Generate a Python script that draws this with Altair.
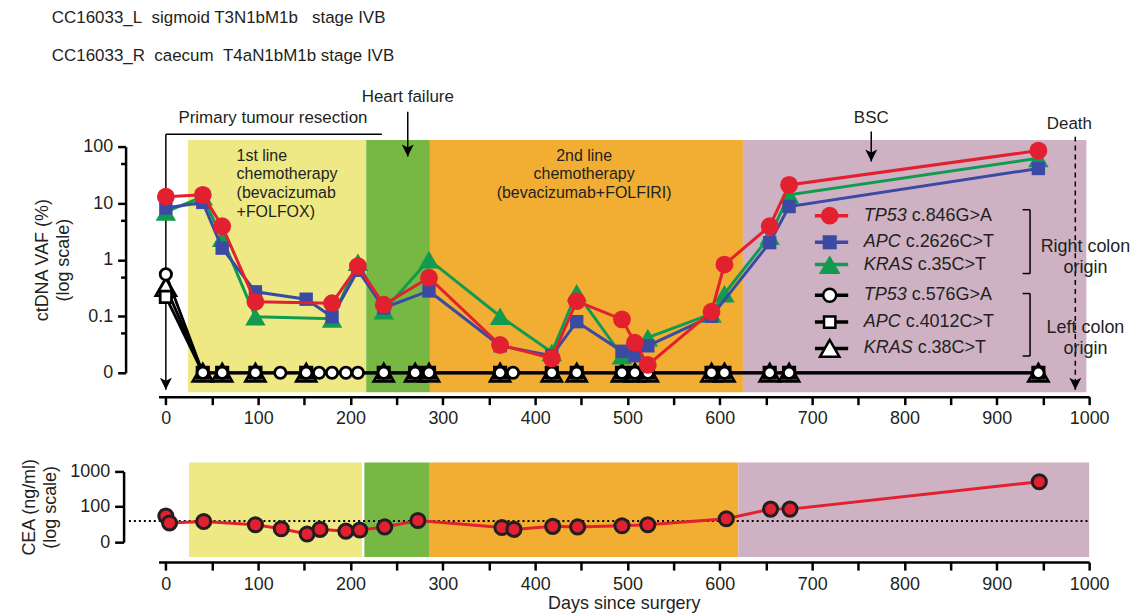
import altair as alt
import pandas as pd

FONT = "Liberation Sans"
INK = "#231F20"

# ---------------- data ----------------
# ctDNA, right-colon origin mutations (VAF %, None = no point)
ct_days = [0, 40, 61, 97, 152, 180, 208, 236, 285, 362, 418, 445, 494, 508, 522, 591, 605, 654, 675, 945]
tp53_846 = [13, 14, 3.9, 0.18, None, 0.17, 0.77, 0.16, 0.48, 0.031, 0.018, 0.185, 0.088, 0.034, 0.0138, 0.12, 0.82, 3.9, 21, 85]
apc_2626 = [8.2, 10.3, 1.6, 0.27, 0.2, 0.098, 0.65, 0.14, 0.28, 0.03, 0.02, 0.08, 0.024, 0.02, 0.03, 0.1, None, 2.0, 8.7, 41]
kras_35 = [7.0, 13, 2.4, 0.098, None, 0.09, 0.9, 0.125, 1.0, 0.1, 0.023, 0.26, 0.02, None, 0.042, 0.11, 0.25, 2.6, 14, 62]

# ctDNA, left-colon origin mutations (0 = not detected)
tp53_576_days = [0, 40, 61, 97, 124, 152, 166, 180, 195, 208, 236, 270, 285, 362, 376, 418, 445, 494, 508, 522, 591, 605, 654, 675, 945]
tp53_576 = [0.55, 0, 0, 0, 0, 0, 0, 0, 0, 0, 0, 0, 0, 0, 0, 0, 0, 0, 0, 0, 0, 0, 0, 0, 0]
lc_days = [0, 40, 61, 97, 152, 236, 270, 285, 362, 418, 445, 494, 508, 522, 591, 605, 654, 675, 945]
apc_4012 = [0.22, 0, 0, 0, 0, 0, 0, 0, 0, 0, 0, 0, 0, 0, 0, 0, 0, 0, 0]
kras_38 = [0.33, 0, 0, 0, 0, 0, 0, 0, 0, 0, 0, 0, 0, 0, 0, 0, 0, 0, 0]

# CEA (ng/ml)
cea_days = [0, 4, 41, 97, 125, 153, 167, 195, 210, 237, 273, 364, 377, 419, 446, 494, 522, 607, 655, 676, 946]
cea_vals = [55, 35, 38.5, 31, 24, 17, 23, 20.5, 22, 27, 41, 26, 23, 28, 27, 29, 31, 46, 86, 86, 510]
cea_normal = 40

# treatment phases
phase_colors = ["#EEE985", "#76B843", "#F1AE33", "#CFB1C4"]
top_phase_start = [24, 217, 286, 625]
top_phase_end = [217, 286, 625, 997]
cea_phase_start = [25, 215, 285, 620]
cea_phase_end = [212.5, 285, 620, 1000]

# events (day)
resection_day = 0
resection_bar_end = 234
heart_failure_day = 262
bsc_day = 764
death_day = 985

# ---------------- styling / layout ----------------
W = 934
H_TOP = 227
H_CEA = 71
RED, BLUE, GREEN = "#E2202F", "#3B4AA3", "#119A50"

X_SCALE = alt.Scale(domain=[-8, 1000], nice=False, zero=False)
YT_SCALE = alt.Scale(type="log", domain=[0.01, 100], nice=False)
YC_SCALE = alt.Scale(type="log", domain=[10, 1000], nice=False)

def x_axis(title, offset, tpad):
    return alt.Axis(values=list(range(0, 1001, 50)), format="d",
                    labelExpr="datum.value % 100 == 0 ? datum.label : ''",
                    title=title, offset=offset, grid=False, labelFlush=False,
                    domainColor="black", domainWidth=2.5, tickColor="black",
                    tickWidth=2.5, tickSize=8, labelPadding=5,
                    labelFont=FONT, labelFontSize=18, labelColor=INK,
                    titleFont=FONT, titleFontSize=18, titleFontWeight="normal",
                    titleColor=INK, titlePadding=tpad)

YT_AXIS = alt.Axis(values=[0.01, 0.05, 0.1, 0.5, 1, 5, 10, 50, 100],
                   labelExpr="datum.value == 100 ? '100' : datum.value == 10 ? '10' : datum.value == 1 ? '1' : datum.value == 0.1 ? '0.1' : datum.value == 0.01 ? '0' : ''",
                   title=["ctDNA VAF (%)", "(log scale)"], offset=33, grid=False, labelFlush=False,
                   domainColor="black", domainWidth=2.5, tickColor="black", tickWidth=2.5,
                   tickSize={"condition": {"test": "indexof([0.05, 0.5, 5, 50], datum.value) >= 0", "value": 5}, "value": 8},
                   labelPadding=5, labelFont=FONT, labelFontSize=18, labelColor=INK,
                   titleFont=FONT, titleFontSize=18, titleFontWeight="normal",
                   titleColor=INK, titlePadding=10, titleLineHeight=21)

YC_AXIS = alt.Axis(values=[10, 100, 1000], format="d",
                   labelExpr="datum.value == 10 ? '0' : datum.label",
                   title=["CEA (ng/ml)", "(log scale)"], offset=35, grid=False, labelFlush=False,
                   domainColor="black", domainWidth=2.5, tickColor="black", tickWidth=2.5,
                   tickSize=9, labelPadding=5, labelFont=FONT, labelFontSize=18, labelColor=INK,
                   titleFont=FONT, titleFontSize=18, titleFontWeight="normal",
                   titleColor=INK, titlePadding=10, titleLineHeight=21)

XT = lambda f: alt.X(f, type="quantitative", scale=X_SCALE, axis=x_axis(None, 24, 6))
XC = lambda f: alt.X(f, type="quantitative", scale=X_SCALE, axis=x_axis("Days since surgery", 20, 2))
YT = lambda f: alt.Y(f, type="quantitative", scale=YT_SCALE, axis=YT_AXIS)
YC = lambda f: alt.Y(f, type="quantitative", scale=YC_SCALE, axis=YC_AXIS)

# ---------------- top panel ----------------
top_layers = []

ph = pd.DataFrame({"start": top_phase_start, "end": top_phase_end, "color": phase_colors,
                   "lo": 0.00453, "hi": 131})
top_layers.append(alt.Chart(ph).mark_rect().encode(
    x=XT("start"), x2="end", y=YT("lo"), y2="hi",
    color=alt.Color("color:N", scale=None)))

# phase labels
phase_txt = pd.DataFrame({"day": [76.6], "y": [100], "t": ["1st line\nchemotherapy\n(bevacizumab\n+FOLFOX)"]})
top_layers.append(alt.Chart(phase_txt).mark_text(align="left", baseline="top", dy=1, lineBreak="\n",
                  lineHeight=19, font=FONT, fontSize=16, color=INK).encode(x=XT("day"), y=YT("y"), text="t"))
phase_txt2 = pd.DataFrame({"day": [453], "y": [100], "t": ["2nd line\nchemotherapy\n(bevacizumab+FOLFIRI)"]})
top_layers.append(alt.Chart(phase_txt2).mark_text(align="center", baseline="top", dy=1, lineBreak="\n",
                  lineHeight=19, font=FONT, fontSize=16, color=INK).encode(x=XT("day"), y=YT("y"), text="t"))

# event annotations
ARROW = "M-1,-2L0,0L1,-2L0,-1.5Z"
vlines = pd.DataFrame({"day": [resection_day, heart_failure_day, bsc_day],
                       "y1": [165.5, 414, 184], "y2": [0.0050, 67, 54.4]})
top_layers.append(alt.Chart(vlines).mark_rule(color="black", strokeWidth=1.5).encode(
    x=XT("day"), y=YT("y1"), y2="y2"))
top_layers.append(alt.Chart(vlines).mark_point(shape=ARROW, size=144, filled=True, color="black", opacity=1).encode(
    x=XT("day"), y=YT("y2")))
hline = pd.DataFrame({"d1": [resection_day], "d2": [resection_bar_end], "y": [165.5]})
top_layers.append(alt.Chart(hline).mark_rule(color="black", strokeWidth=1.5).encode(
    x=XT("d1"), x2="d2", y=YT("y")))
death = pd.DataFrame({"day": [death_day], "y1": [150], "y2": [0.0050]})
top_layers.append(alt.Chart(death).mark_rule(color="black", strokeWidth=1.5, strokeDash=[5, 4]).encode(
    x=XT("day"), y=YT("y1"), y2="y2"))
top_layers.append(alt.Chart(death).mark_point(shape=ARROW, size=144, filled=True, color="black", opacity=1).encode(
    x=XT("day"), y=YT("y2")))
ann = pd.DataFrame({"day": [116, heart_failure_day, bsc_day, 978.6],
                    "y": [317, 762, 317, 251],
                    "t": ["Primary tumour resection", "Heart failure", "BSC", "Death"]})
top_layers.append(alt.Chart(ann).mark_text(align="center", baseline="middle", font=FONT, fontSize=17, color=INK).encode(
    x=XT("day"), y=YT("y"), text="t"))


def series(days, vals, color, shape, size, fill, stroke, sw, lw):
    df = pd.DataFrame({"day": days, "vaf": vals}).dropna()
    base = alt.Chart(df).transform_calculate(yv="max(datum.vaf, 0.01)")
    line = base.mark_line(color=color, strokeWidth=lw).encode(x=XT("day"), y=YT("yv"))
    pts = base.mark_point(shape=shape, size=size, filled=True, fill=fill, stroke=stroke,
                          strokeWidth=sw, opacity=1).encode(x=XT("day"), y=YT("yv"))
    return [line, pts]

top_layers += series(lc_days, kras_38, "black", "triangle-up", 400, "white", "black", 2.8, 2.8)
top_layers += series(lc_days, apc_4012, "black", "square", 130, "white", "black", 2.8, 2.8)
top_layers += series(tp53_576_days, tp53_576, "black", "circle", 130, "white", "black", 2.8, 2.8)
top_layers += series(ct_days, kras_35, GREEN, "triangle-up", 420, GREEN, GREEN, 0, 3)
top_layers += series(ct_days, apc_2626, BLUE, "square", 180, BLUE, BLUE, 0, 3)
top_layers += series(ct_days, tp53_846, RED, "circle", 320, RED, RED, 0, 3)

# legend (custom)
leg_rows = [
    ("TP53", "c.846G>A", RED, "circle", 320, RED, RED, 0, 6.0, 48),
    ("APC", "c.2626C>T", BLUE, "square", 200, BLUE, BLUE, 0, 2.03, 42),
    ("KRAS", "c.35C>T", GREEN, "triangle-up", 470, GREEN, GREEN, 0, 0.82, 54),
    ("TP53", "c.576G>A", "black", "circle", 170, "white", "black", 2.5, 0.235, 48),
    ("APC", "c.4012C>T", "black", "square", 130, "white", "black", 2.5, 0.0787, 42),
    ("KRAS", "c.38C>T", "black", "triangle-up", 380, "white", "black", 2.5, 0.027, 54),
]
for gene, mut, col, shp, sz, fll, stk, sw, yv, dx in leg_rows:
    d = pd.DataFrame({"x1": [703], "x2": [739], "xm": [719], "xt": [756], "y": [yv], "g": [gene], "m": [mut]})
    top_layers.append(alt.Chart(d).mark_rule(color=col, strokeWidth=3.5).encode(x=XT("x1"), x2="x2", y=YT("y")))
    top_layers.append(alt.Chart(d).mark_point(shape=shp, size=sz, filled=True, fill=fll, stroke=stk,
                                              strokeWidth=sw, opacity=1).encode(x=XT("xm"), y=YT("y")))
    top_layers.append(alt.Chart(d).mark_text(align="left", baseline="middle", font=FONT, fontSize=18,
                                             fontStyle="italic", color=INK).encode(x=XT("xt"), y=YT("y"), text="g"))
    top_layers.append(alt.Chart(d).mark_text(align="left", baseline="middle", font=FONT, fontSize=18,
                                             dx=dx, color=INK).encode(x=XT("xt"), y=YT("y"), text="m"))

brackets = pd.DataFrame({"x": [936, 936], "xa": [928, 928], "top": [7.65, 0.252], "bot": [0.569, 0.0198]})
top_layers.append(alt.Chart(brackets).mark_rule(color="black", strokeWidth=1.5).encode(x=XT("x"), y=YT("top"), y2="bot"))
top_layers.append(alt.Chart(brackets).mark_rule(color="black", strokeWidth=1.5).encode(x=XT("xa"), x2="x", y=YT("top")))
top_layers.append(alt.Chart(brackets).mark_rule(color="black", strokeWidth=1.5).encode(x=XT("xa"), x2="x", y=YT("bot")))
grp = pd.DataFrame({"x": [996, 996], "y": [1.67, 0.0622], "t": ["Right colon\norigin", "Left colon\norigin"]})
top_layers.append(alt.Chart(grp).mark_text(align="center", baseline="middle", lineBreak="\n", lineHeight=21.5,
                                           font=FONT, fontSize=18, color=INK).encode(x=XT("x"), y=YT("y"), text="t"))

top = alt.layer(*top_layers).properties(width=W, height=H_TOP)

# ---------------- CEA panel ----------------
cph = pd.DataFrame({"start": cea_phase_start, "end": cea_phase_end, "color": phase_colors,
                    "lo": 3.78, "hi": 1780})
cea = pd.DataFrame({"day": cea_days, "cea": cea_vals})
norm = pd.DataFrame({"d1": [-40], "d2": [1000], "y": [cea_normal]})
bottom = alt.layer(
    alt.Chart(cph).mark_rect().encode(x=XC("start"), x2="end", y=YC("lo"), y2="hi",
                                      color=alt.Color("color:N", scale=None)),
    alt.Chart(norm).mark_rule(color="black", strokeWidth=2, strokeDash=[2, 3]).encode(x=XC("d1"), x2="d2", y=YC("y")),
    alt.Chart(cea).mark_line(color=RED, strokeWidth=3).encode(x=XC("day"), y=YC("cea")),
    alt.Chart(cea).mark_point(shape="circle", size=200, filled=True, fill=RED, stroke="#231F20",
                              strokeWidth=3, opacity=1).encode(x=XC("day"), y=YC("cea")),
).properties(width=W, height=H_CEA)

chart = alt.vconcat(top, bottom, spacing=99, bounds="flush").properties(
    title=alt.TitleParams(
        text="CC16033_L\u00a0\u00a0sigmoid T3N1bM1b\u00a0\u00a0\u00a0stage IVB",
        subtitle="CC16033_R\u00a0\u00a0caecum\u00a0\u00a0T4aN1bM1b stage IVB",
        anchor="start", frame="bounds", font=FONT, fontSize=17, fontWeight="normal", color=INK,
        subtitleFont=FONT, subtitleFontSize=17, subtitleColor=INK, subtitlePadding=21, offset=22.5, dx=31),
    padding={"left": 12, "top": 0, "right": 0, "bottom": 0},
).configure_view(stroke=None)

chart.save("out.html", embed_options={"renderer": "svg", "actions": False})
